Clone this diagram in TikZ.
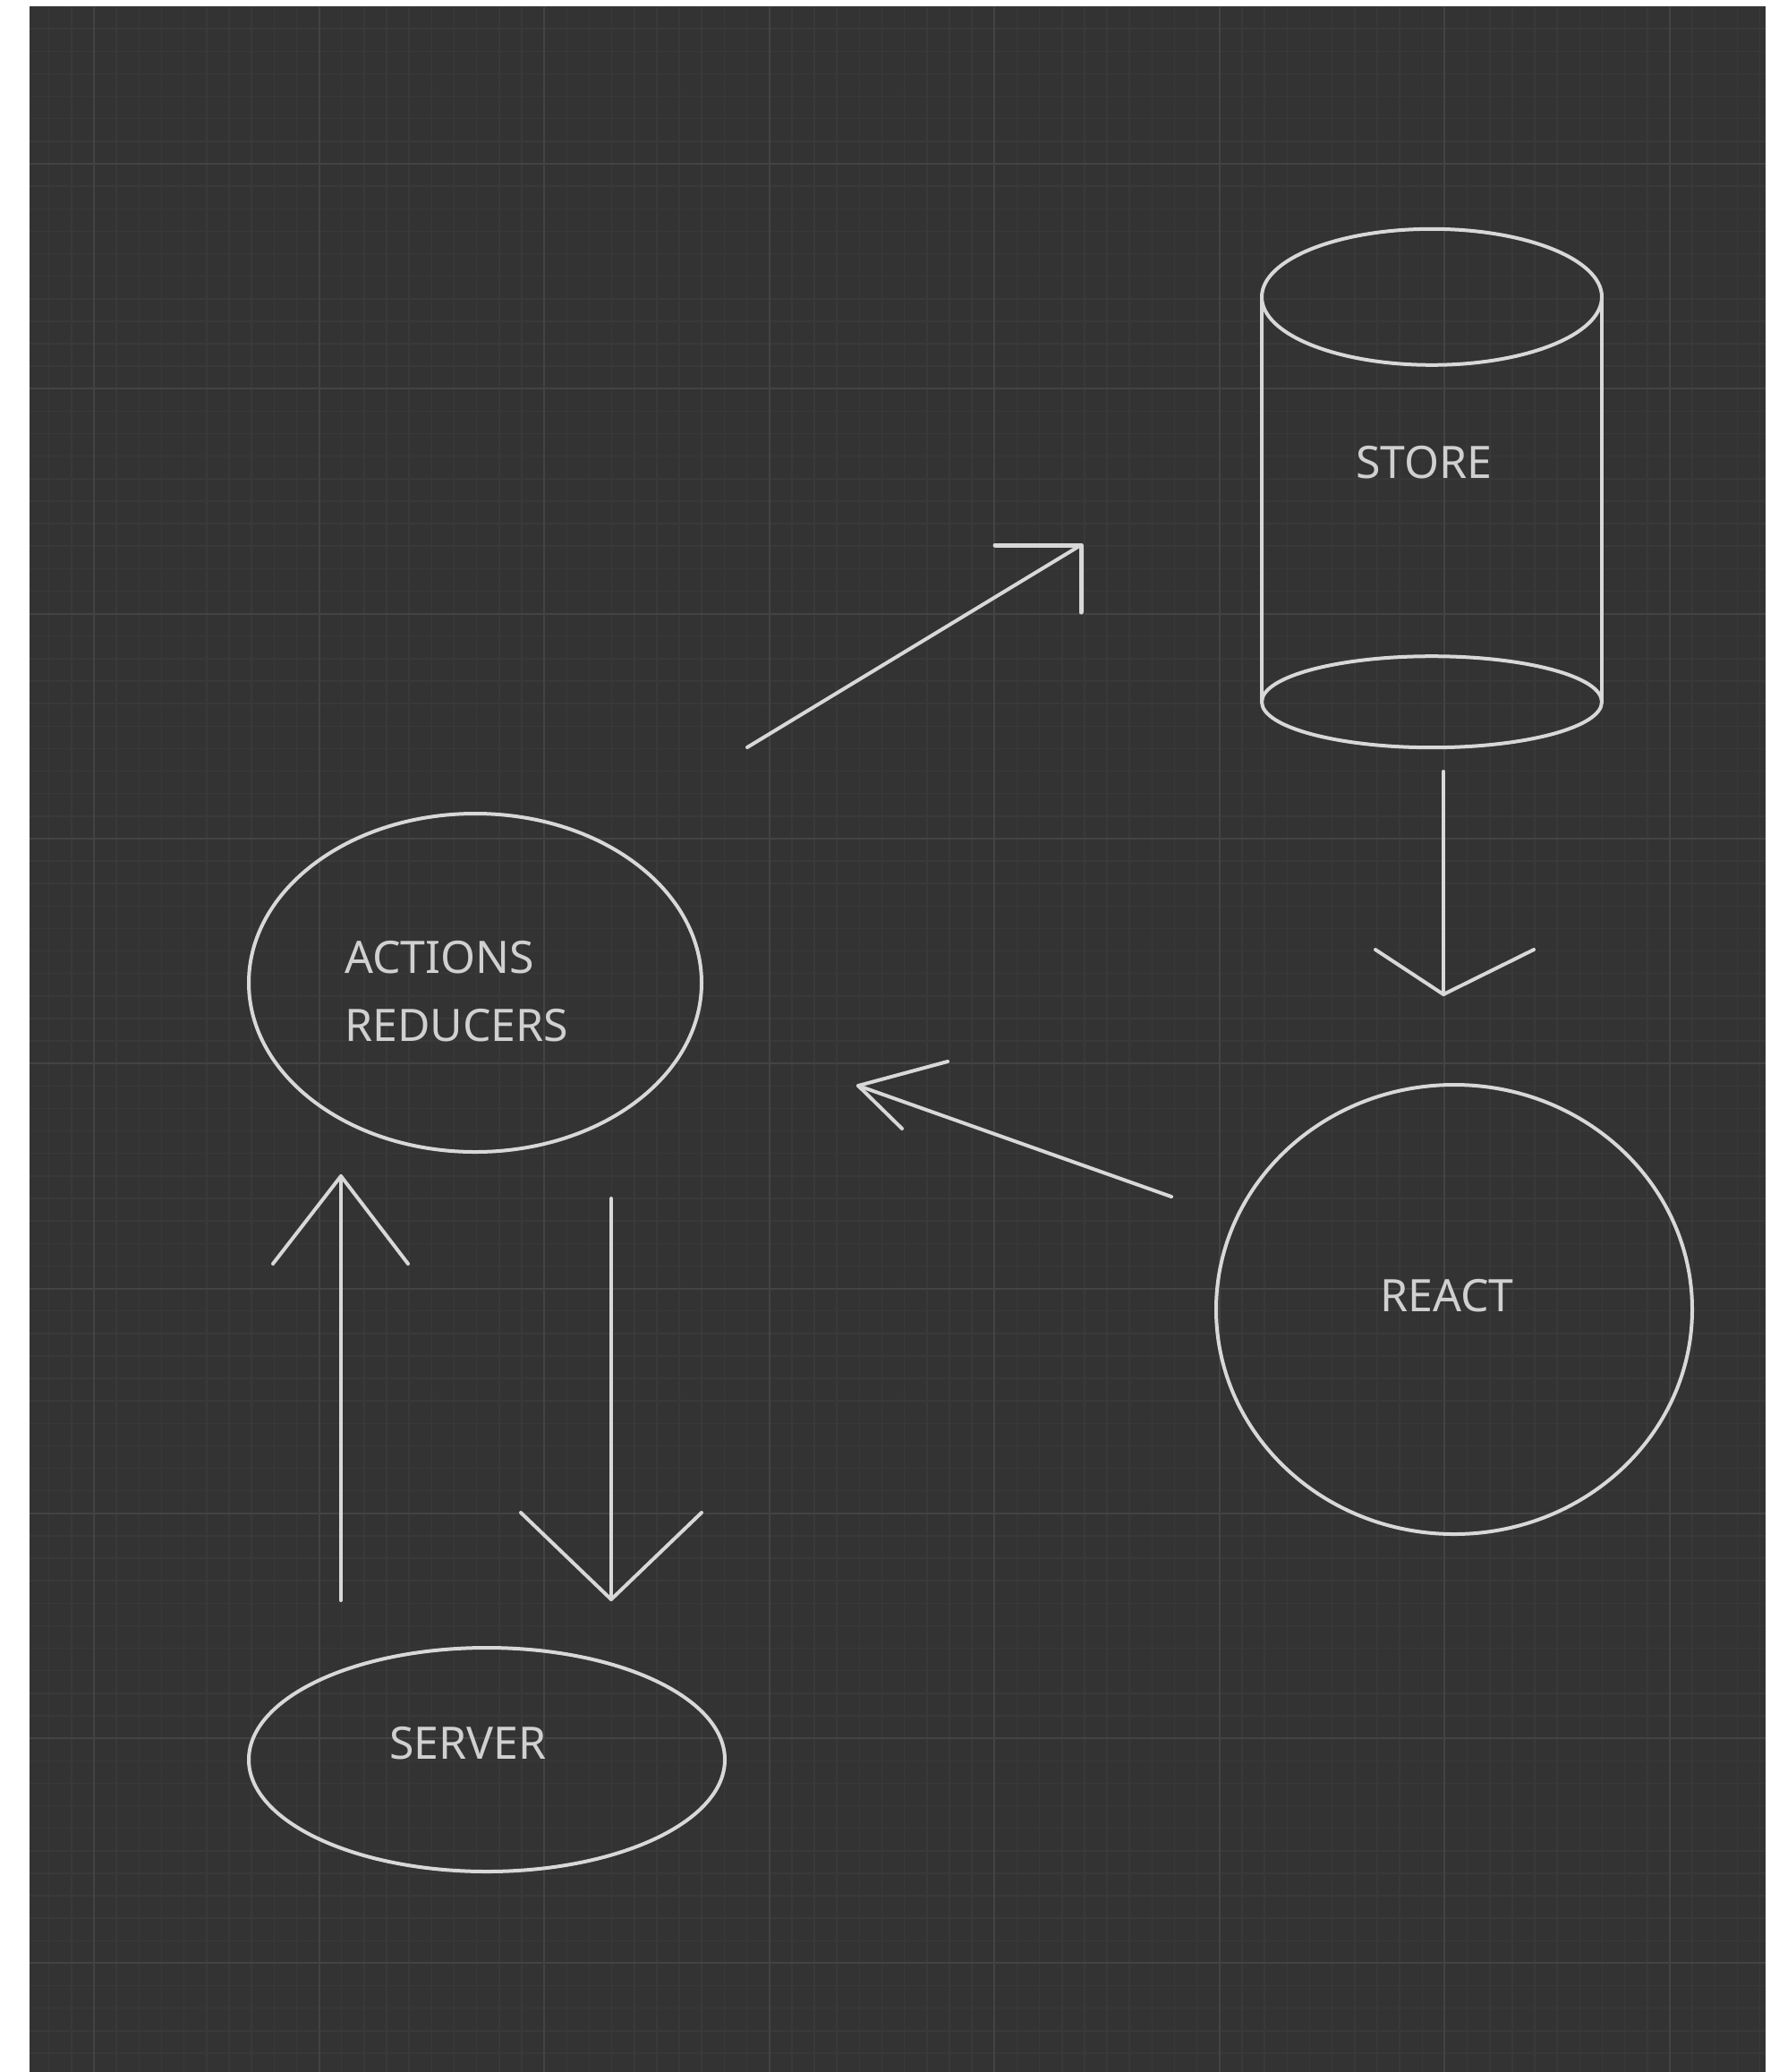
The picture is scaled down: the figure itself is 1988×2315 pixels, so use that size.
\documentclass[tikz,border=0pt]{standalone}
\usepackage{fontspec}
\setmainfont{Noto Sans}
\usetikzlibrary{shapes.geometric}
\definecolor{bg}{HTML}{333333}
\definecolor{gridminor}{HTML}{393939}
\definecolor{gridmajor}{HTML}{434343}
\definecolor{ink}{HTML}{D8D8D8}
\definecolor{txt}{HTML}{D0D0D0}
\begin{document}
\begin{tikzpicture}[x=1pt,y=-1pt,
  shapeline/.style={draw=ink,line width=4pt},
  conn/.style={draw=ink,line width=4pt,line cap=round,line join=round},
  lbl/.style={text=txt,font=\fontsize{50}{60}\selectfont,inner sep=0pt,anchor=base west}]
\useasboundingbox (0,0) rectangle (1988,2315);
\fill[white] (0,0) rectangle (1988,2315);
\fill[bg] (33,8) rectangle (1973,2315);
\begin{scope}
\clip (33,8) rectangle (1973,2315);
\foreach \k in {-3,...,75} \draw[gridminor,line width=1.5pt] ({105+25.157*\k},8) -- ({105+25.157*\k},2315);
\foreach \k in {-7,...,85} \draw[gridminor,line width=1.5pt] (33,{183+25.13*\k}) -- (1973,{183+25.13*\k});
\foreach \k in {0,...,7} \draw[gridmajor,line width=2pt] ({105+251.57*\k},8) -- ({105+251.57*\k},2315);
\foreach \k in {0,...,8} \draw[gridmajor,line width=2pt] (33,{183+251.3*\k}) -- (1973,{183+251.3*\k});
\end{scope}

% shapes
\node[ellipse,shapeline,minimum width=506pt,minimum height=378pt,inner sep=0pt] (actions) at (531,1098) {};
\node[ellipse,shapeline,minimum width=532pt,minimum height=502pt,inner sep=0pt] (react) at (1625,1463) {};
\node[ellipse,shapeline,minimum width=532pt,minimum height=250pt,inner sep=0pt] (server) at (544,1966) {};
\node[minimum width=380pt,minimum height=452pt,inner sep=0pt] (store) at (1600,558) {};
\draw[shapeline] (store.north) ellipse [x radius=190pt, y radius=76pt];
\draw[shapeline] (store.south) ellipse [x radius=190pt, y radius=51pt];
\draw[shapeline] (store.north west) -- (store.south west);
\draw[shapeline] (store.north east) -- (store.south east);

% labels
\node[lbl] (storetxt) at (1515,534) {STORE};
\node[lbl] (reacttxt) at (1542,1465) {REACT};
\node[lbl] (servertxt) at (435,1965) {SERVER};
\node[lbl] (actionstxt) at (385,1087) {ACTIONS};
\node[lbl] (reducerstxt) at (385,1163) {REDUCERS};

% arrow endpoints
\coordinate (as0) at (835,835);   \coordinate (as1) at (1208,609);
\coordinate (ash1) at (1112,609); \coordinate (ash2) at (1208,684);
\coordinate (sr0) at (1613,862);  \coordinate (sr1) at (1613,1111);
\coordinate (srh1) at (1537,1061);\coordinate (srh2) at (1714,1061);
\coordinate (ra0) at (1309,1337); \coordinate (ra1) at (959,1213);
\coordinate (rah1) at (1059,1186);\coordinate (rah2) at (1008,1261);
\coordinate (ad0) at (683,1339);  \coordinate (ad1) at (683,1787);
\coordinate (adh1) at (582,1690); \coordinate (adh2) at (784,1690);
\coordinate (su0) at (381,1788);  \coordinate (su1) at (381,1314);
\coordinate (suh1) at (305,1412); \coordinate (suh2) at (456,1412);

% connectors
\draw[conn] (as0) -- (as1);
\draw[conn,line width=5pt] (ash1) -- (as1) -- (ash2);
\draw[conn] (sr0) -- (sr1);
\draw[conn] (srh1) -- (sr1) -- (srh2);
\draw[conn] (ra0) -- (ra1);
\draw[conn] (rah1) -- (ra1) -- (rah2);
\draw[conn] (ad0) -- (ad1);
\draw[conn] (adh1) -- (ad1) -- (adh2);
\draw[conn] (su0) -- (su1);
\draw[conn] (suh1) -- (su1) -- (suh2);
\end{tikzpicture}
\end{document}
